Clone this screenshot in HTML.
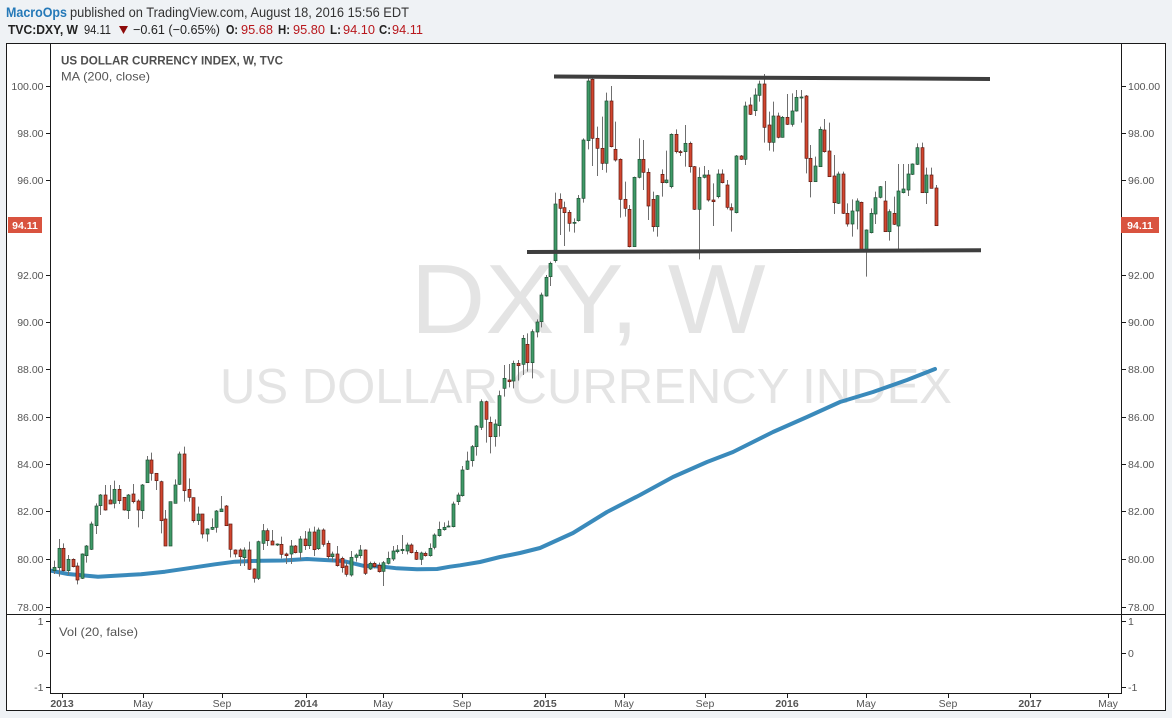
<!DOCTYPE html>
<html>
<head>
<meta charset="utf-8">
<style>
html,body{margin:0;padding:0;background:#eff2f5;}
svg{display:block;font-family:"Liberation Sans",sans-serif;}
</style>
</head>
<body>
<svg id="s" width="1172" height="718" viewBox="0 0 1172 718" xmlns="http://www.w3.org/2000/svg">
  <rect x="0" y="0" width="1172" height="718" fill="#eff2f5"/>
  <!-- header -->
  <text x="6" y="17" font-size="13.5" font-weight="bold" fill="#2579b8" textLength="61" lengthAdjust="spacingAndGlyphs">MacroOps</text>
  <text x="70" y="17" font-size="13.5" fill="#333" textLength="339" lengthAdjust="spacingAndGlyphs">published on TradingView.com, August 18, 2016 15:56 EDT</text>
  <text x="8" y="34" font-size="13" font-weight="bold" fill="#222" textLength="70" lengthAdjust="spacingAndGlyphs">TVC:DXY, W</text>
  <text x="84" y="34" font-size="13" fill="#222" textLength="27" lengthAdjust="spacingAndGlyphs">94.11</text>
  <polygon points="119,26 128,26 123.5,34" fill="#8e0b0b"/>
  <text x="133" y="34" font-size="13" fill="#222" textLength="87" lengthAdjust="spacingAndGlyphs">−0.61 (−0.65%)</text>
  <text x="226" y="34" font-size="13" font-weight="bold" fill="#222" textLength="12" lengthAdjust="spacingAndGlyphs">O:</text>
  <text x="241" y="34" font-size="13" fill="#b8171c" textLength="32" lengthAdjust="spacingAndGlyphs">95.68</text>
  <text x="278" y="34" font-size="13" font-weight="bold" fill="#222" textLength="12" lengthAdjust="spacingAndGlyphs">H:</text>
  <text x="293" y="34" font-size="13" fill="#b8171c" textLength="32" lengthAdjust="spacingAndGlyphs">95.80</text>
  <text x="330" y="34" font-size="13" font-weight="bold" fill="#222" textLength="11" lengthAdjust="spacingAndGlyphs">L:</text>
  <text x="343" y="34" font-size="13" fill="#b8171c" textLength="32" lengthAdjust="spacingAndGlyphs">94.10</text>
  <text x="379" y="34" font-size="13" font-weight="bold" fill="#222" textLength="12" lengthAdjust="spacingAndGlyphs">C:</text>
  <text x="392" y="34" font-size="13" fill="#b8171c" textLength="31" lengthAdjust="spacingAndGlyphs">94.11</text>

  <!-- frame -->
  <rect x="6.5" y="43.5" width="1159" height="667" fill="#fff" stroke="#1a1a1a" stroke-width="1"/>
  <line x1="50.5" y1="43" x2="50.5" y2="694" stroke="#1a1a1a"/>
  <line x1="1121.5" y1="43" x2="1121.5" y2="694" stroke="#1a1a1a"/>
  <line x1="6" y1="614.5" x2="1166" y2="614.5" stroke="#1a1a1a"/>
  <line x1="50" y1="693.5" x2="1122" y2="693.5" stroke="#1a1a1a"/>

  <defs>
    <clipPath id="cp"><rect x="51" y="44" width="1070" height="570"/></clipPath>
  </defs>

  <g clip-path="url(#cp)">
    <!-- watermark -->
    <text x="588" y="333" font-size="98" fill="#e4e4e4" text-anchor="middle" textLength="355" lengthAdjust="spacingAndGlyphs">DXY, W</text>
    <text x="586" y="403" font-size="49" fill="#e4e4e4" text-anchor="middle" textLength="732" lengthAdjust="spacingAndGlyphs">US DOLLAR CURRENCY INDEX</text>
    <!-- MA -->
    <polyline fill="none" stroke="#3a8abb" stroke-width="4" stroke-linejoin="round" stroke-linecap="round"
      points="51,570.7 68,574 98,576.7 115,575.7 141,574.3 165,571.7 188,568.3 215,564.3 235,561.7 261,560.7 283,560.5 307,559 320,559.7 343,561 353,563.3 363,565.7 383,566.7 397,568.3 417,569.3 437,569 450,566.7 460,565.3 480,562 500,557 520,553 540,548 573,533 607,512 640,495 673,477 707,462 733,452 773,432 807,417 840,402 873,392 907,380 935,369"/>
    <g id="candles"></g>
    <!-- trend lines -->
    <line x1="554" y1="76.5" x2="990" y2="79" stroke="#3e3e3e" stroke-width="4"/>
    <line x1="527" y1="252" x2="981" y2="250.3" stroke="#3e3e3e" stroke-width="4"/>
  </g>

  <!-- titles -->
  <text x="61" y="64.5" font-size="11.6" font-weight="bold" fill="#4f4f4f" textLength="222" lengthAdjust="spacingAndGlyphs">US DOLLAR CURRENCY INDEX, W, TVC</text>
  <text x="61" y="80.5" font-size="12" fill="#555" textLength="89" lengthAdjust="spacingAndGlyphs">MA (200, close)</text>
  <text x="59" y="636" font-size="12" fill="#555" textLength="79" lengthAdjust="spacingAndGlyphs">Vol (20, false)</text>

  <!-- left axis -->
  <g font-size="10.5" fill="#555" text-anchor="end">
    <text x="43.5" y="90">100.00</text>
    <text x="43.5" y="137">98.00</text>
    <text x="43.5" y="184">96.00</text>
    <text x="43.5" y="279">92.00</text>
    <text x="43.5" y="326">90.00</text>
    <text x="43.5" y="373">88.00</text>
    <text x="43.5" y="421">86.00</text>
    <text x="43.5" y="468">84.00</text>
    <text x="43.5" y="515">82.00</text>
    <text x="43.5" y="563">80.00</text>
    <text x="43.5" y="611">78.00</text>
    <text x="43.5" y="625">1</text>
    <text x="43.5" y="657">0</text>
    <text x="43.5" y="691">-1</text>
  </g>
  <g stroke="#1a1a1a" stroke-width="1">
    <line x1="46" y1="86.5" x2="50" y2="86.5"/>
    <line x1="46" y1="133.5" x2="50" y2="133.5"/>
    <line x1="46" y1="180.5" x2="50" y2="180.5"/>
    <line x1="46" y1="275.5" x2="50" y2="275.5"/>
    <line x1="46" y1="322.5" x2="50" y2="322.5"/>
    <line x1="46" y1="369.5" x2="50" y2="369.5"/>
    <line x1="46" y1="417.5" x2="50" y2="417.5"/>
    <line x1="46" y1="464.5" x2="50" y2="464.5"/>
    <line x1="46" y1="511.5" x2="50" y2="511.5"/>
    <line x1="46" y1="559.5" x2="50" y2="559.5"/>
    <line x1="46" y1="607.5" x2="50" y2="607.5"/>
    <line x1="46" y1="621.5" x2="50" y2="621.5"/>
    <line x1="46" y1="653.5" x2="50" y2="653.5"/>
    <line x1="46" y1="687.5" x2="50" y2="687.5"/>
    <line x1="1122" y1="86.5" x2="1126" y2="86.5"/>
    <line x1="1122" y1="133.5" x2="1126" y2="133.5"/>
    <line x1="1122" y1="180.5" x2="1126" y2="180.5"/>
    <line x1="1122" y1="275.5" x2="1126" y2="275.5"/>
    <line x1="1122" y1="322.5" x2="1126" y2="322.5"/>
    <line x1="1122" y1="369.5" x2="1126" y2="369.5"/>
    <line x1="1122" y1="417.5" x2="1126" y2="417.5"/>
    <line x1="1122" y1="464.5" x2="1126" y2="464.5"/>
    <line x1="1122" y1="511.5" x2="1126" y2="511.5"/>
    <line x1="1122" y1="559.5" x2="1126" y2="559.5"/>
    <line x1="1122" y1="607.5" x2="1126" y2="607.5"/>
    <line x1="1122" y1="621.5" x2="1126" y2="621.5"/>
    <line x1="1122" y1="653.5" x2="1126" y2="653.5"/>
    <line x1="1122" y1="687.5" x2="1126" y2="687.5"/>
  </g>
  <!-- right axis -->
  <g font-size="10.5" fill="#555">
    <text x="1128" y="90">100.00</text>
    <text x="1128" y="137">98.00</text>
    <text x="1128" y="184">96.00</text>
    <text x="1128" y="279">92.00</text>
    <text x="1128" y="326">90.00</text>
    <text x="1128" y="373">88.00</text>
    <text x="1128" y="421">86.00</text>
    <text x="1128" y="468">84.00</text>
    <text x="1128" y="515">82.00</text>
    <text x="1128" y="563">80.00</text>
    <text x="1128" y="611">78.00</text>
    <text x="1128" y="625">1</text>
    <text x="1128" y="657">0</text>
    <text x="1128" y="691">-1</text>
  </g>
  <!-- last price labels -->
  <rect x="1121" y="217" width="38" height="16" fill="#d9533f"/>
  <text x="1140" y="229" font-size="10.5" font-weight="bold" fill="#fff" text-anchor="middle">94.11</text>
  <rect x="8" y="217" width="34" height="16" fill="#d9533f"/>
  <text x="25" y="229" font-size="10.5" font-weight="bold" fill="#fff" text-anchor="middle">94.11</text>

  <!-- x axis -->
  <g stroke="#1a1a1a">
    <line x1="62.5" y1="694" x2="62.5" y2="698"/>
    <line x1="143.5" y1="694" x2="143.5" y2="698"/>
    <line x1="222.5" y1="694" x2="222.5" y2="698"/>
    <line x1="306.5" y1="694" x2="306.5" y2="698"/>
    <line x1="383.5" y1="694" x2="383.5" y2="698"/>
    <line x1="462.5" y1="694" x2="462.5" y2="698"/>
    <line x1="545.5" y1="694" x2="545.5" y2="698"/>
    <line x1="624.5" y1="694" x2="624.5" y2="698"/>
    <line x1="705.5" y1="694" x2="705.5" y2="698"/>
    <line x1="787.5" y1="694" x2="787.5" y2="698"/>
    <line x1="866.5" y1="694" x2="866.5" y2="698"/>
    <line x1="948.5" y1="694" x2="948.5" y2="698"/>
    <line x1="1030.5" y1="694" x2="1030.5" y2="698"/>
    <line x1="1108.5" y1="694" x2="1108.5" y2="698"/>
  </g>
  <g font-size="10.5" fill="#555" text-anchor="middle">
    <text x="62" y="707" font-weight="bold">2013</text>
    <text x="143" y="707">May</text>
    <text x="222" y="707">Sep</text>
    <text x="306" y="707" font-weight="bold">2014</text>
    <text x="383" y="707">May</text>
    <text x="462" y="707">Sep</text>
    <text x="545" y="707" font-weight="bold">2015</text>
    <text x="624" y="707">May</text>
    <text x="705" y="707">Sep</text>
    <text x="787" y="707" font-weight="bold">2016</text>
    <text x="866" y="707">May</text>
    <text x="948" y="707">Sep</text>
    <text x="1030" y="707" font-weight="bold">2017</text>
    <text x="1108" y="707">May</text>
  </g>
</svg>
<script>
(function(){
var segs=[
{oy:440,k0:1,d:[
[382,392,362,402,'g'],[325,383,297,410,'g'],[325,392,310,395,'r'],[358,392,345,405,'g'],[358,380,355,382,'r'],
[378,420,368,433,'r'],[342,415,340,417,'g'],[318,347,315,368,'g'],[252,328,245,330,'g'],[198,257,190,282,'g'],
[165,197,162,225,'g'],[165,210,135,212,'r'],[180,192,135,192,'r'],[148,190,122,205,'g'],[148,182,135,192,'r'],
[172,210,172,212,'r'],[165,212,162,237,'g'],[162,185,132,190,'r'],[183,210,178,262,'r'],[135,212,132,237,'g'],
[60,128,48,128,'g'],[60,100,38,122,'r'],[100,122,100,150,'r'],[125,242,122,280,'r'],[237,318,210,318,'r'],
[185,318,185,318,'g'],[135,190,118,190,'g'],[42,133,35,135,'g'],[42,152,20,185,'r'],[148,172,115,185,'r'],
[173,242,172,248,'r'],[222,242,200,255,'g'],[222,282,222,295,'r'],[267,282,265,305,'g'],[262,268,235,270,'g'],
[213,262,210,278,'g'],[207,215,168,215,'g'],[198,257,195,258,'r'],[252,328,252,352,'r'],[330,342,328,352,'r'],
[330,350,325,378,'r'],[330,353,322,378,'g'],[330,388,305,390,'r'],[387,415,385,428,'r'],[305,415,302,420,'g'],
[272,310,252,330,'g'],[272,302,265,318,'r'],[303,315,270,315,'r'],[312,314,310,318,'g'],[313,343,290,355,'r'],
[342,347,338,372,'r'],[318,342,300,372,'g'],[318,338,315,340,'r']]},
{oy:500,k0:54,d:[
[117,157,108,180,'g'],[117,137,93,150,'r'],[96,137,85,147,'g'],[96,149,80,168,'r'],[90,146,83,150,'g'],
[90,133,85,140,'r'],[130,170,122,178,'r'],[162,170,155,185,'g'],[162,197,138,200,'r'],[175,203,170,218,'r'],
[198,223,185,230,'r'],[172,225,153,230,'g'],[165,172,160,185,'g'],[150,167,135,175,'g'],[150,220,148,225,'r'],
[190,207,185,210,'g'],[190,200,185,205,'r'],[196,215,188,218,'r'],[188,214,183,258,'g'],[175,190,155,193,'g'],
[153,177,138,183,'g'],[150,155,135,160,'g'],[148,152,105,162,'g'],[135,153,128,163,'g'],[135,158,130,160,'r'],
[157,178,150,180,'r'],[159,178,155,195,'g'],[160,167,155,170,'r'],[145,167,130,170,'g'],[105,142,100,148,'g'],
[88,107,65,110,'g'],[82,89,67,92,'g'],[78,80,62,82,'g'],[12,80,5,82,'g']]},
{oy:250,k0:88,d:[
[735,755,728,765,'g'],[660,737,648,740,'g'],[633,658,605,660,'g'],[590,632,585,650,'g'],[528,590,525,617,'g'],
[455,532,448,540,'g'],[455,508,452,578,'r'],[517,560,500,610,'r'],[522,560,508,590,'g'],[437,527,422,560,'g'],
[385,415,345,440,'g'],[390,395,342,412,'r'],[340,393,332,415,'g'],[340,347,330,392,'r'],[265,343,255,375,'g'],
[283,338,250,365,'r'],[245,338,238,385,'g'],[216,246,208,262,'g'],[135,215,128,232,'g'],[82,138,75,140,'g'],
[40,80,35,108,'g']]},
{oy:70,k0:109,d:[
[402,572,368,578,'g'],[388,415,370,495,'r'],[413,428,395,528,'r'],[427,460,420,485,'r'],[457,460,445,488,'g'],
[385,452,375,455,'g'],[210,385,205,398,'g'],[33,212,18,238,'g'],[28,205,25,288,'r'],[205,235,170,318,'r'],
[235,280,140,300,'r'],[93,280,68,308,'g'],[93,230,48,232,'r'],[238,270,155,275,'r'],[268,388,265,443,'r'],
[388,415,335,440,'r'],[418,530,405,532,'r'],[322,530,320,530,'g'],[268,322,205,325,'g'],[268,307,210,360,'r'],
[307,408,295,450,'r'],[388,470,365,485,'r'],[377,470,375,500,'g'],[313,338,298,380,'r'],[330,338,242,340,'g'],
[193,350,190,355,'g'],[193,245,178,250,'r'],[245,248,240,258,'r'],[220,245,165,290,'g'],[220,290,215,308,'r'],
[290,418,288,420,'r'],[322,418,292,568,'g'],[315,322,288,325,'g'],[315,390,300,395,'r'],[390,395,340,468,'r'],
[312,380,298,385,'g'],[312,338,298,340,'r'],[345,412,330,418,'r'],[413,420,400,485,'r'],[258,428,255,430,'g'],
[258,268,255,270,'r']]},
{oy:70,k0:150,d:[
[108,268,95,285,'g'],[105,133,82,135,'r'],[75,122,55,138,'g'],[42,76,32,95,'g'],[42,172,12,218,'r'],
[165,217,125,242,'r'],[138,217,95,245,'g'],[138,202,128,205,'r'],[142,202,138,203,'g'],[142,163,72,165,'r'],
[123,163,70,170,'g'],[82,123,60,125,'g'],[81,83,60,158,'g'],[78,265,75,310,'r'],[265,335,225,382,'r'],
[288,335,260,335,'g'],[178,290,170,290,'g'],[180,245,147,248,'r'],[243,320,158,320,'r'],[318,398,255,432,'r'],
[312,400,305,402,'g'],[312,430,305,432,'r'],[430,462,400,470,'r'],[423,462,388,500,'g'],[393,423,385,478,'g'],
[397,542,395,542,'r'],[480,542,478,620,'g'],[430,488,415,490,'g'],[383,432,365,462,'g'],[350,382,348,385,'g'],
[393,485,333,485,'r'],[425,485,418,512,'g'],[430,463,380,465,'r'],[363,468,282,542,'g'],[357,368,282,370,'g'],
[312,360,282,378,'g'],[282,313,280,315,'g'],[233,283,220,285,'g'],[233,368,218,368,'r'],[315,368,293,402,'g'],
[315,355,293,355,'r'],[354,467,345,467,'r']]}
];
var NS='http://www.w3.org/2000/svg';
var g=document.getElementById('candles');
function el(n,a){var e=document.createElementNS(NS,n);for(var k in a)e.setAttribute(k,a[k]);g.appendChild(e);return e;}
segs.forEach(function(s){
  s.d.forEach(function(c,i){
    var k=s.k0+i;
    var x=Math.round(54+(k-1)*4.64);
    var t=s.oy+c[0]/3,b=s.oy+c[1]/3,wt=s.oy+c[2]/3,wb=s.oy+c[3]/3;
    if(wt>t)wt=t; if(wb<b)wb=b;
    el('line',{x1:x+0.5,y1:wt,x2:x+0.5,y2:wb,stroke:'#6f6f6f','stroke-width':1});
    var h=Math.max(b-t,1);
    var up=c[4]==='g';
    el('rect',{x:x-1,y:t,width:3,height:h,fill:up?'#3f9a68':'#d2452f',stroke:up?'#1f4f33':'#5c1a12','stroke-width':0.7});
  });
});
})();
</script>
</body>
</html>
